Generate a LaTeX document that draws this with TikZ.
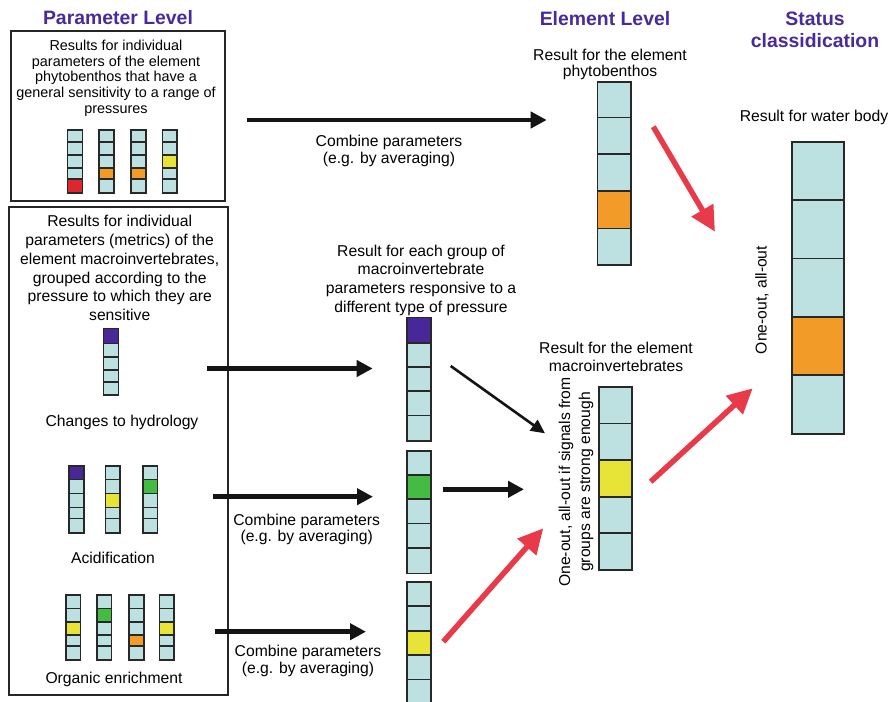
\documentclass[tikz,border=0pt]{standalone}
\usepackage{fontspec}
\setmainfont{Liberation Sans}
\usetikzlibrary{arrows.meta}
\definecolor{cellc}{RGB}{189,224,224}
\definecolor{hdc}{RGB}{72,42,155}
\definecolor{purp}{RGB}{72,40,152}
\definecolor{orng}{RGB}{242,155,40}
\definecolor{redc}{RGB}{222,38,46}
\definecolor{yelc}{RGB}{232,228,55}
\definecolor{grnc}{RGB}{68,188,67}
\definecolor{arrred}{RGB}{232,58,72}
\definecolor{edgec}{RGB}{40,40,40}
\tikzset{
  heading/.style={font=\fontsize{19.4}{22}\selectfont\bfseries, text=hdc, inner sep=0pt, align=center},
  txt/.style={font=\fontsize{15.7}{18.7}\selectfont, inner sep=0pt, align=center},
  txtsm/.style={font=\fontsize{14.4}{15.8}\selectfont, inner sep=0pt, align=center},
  txtarr/.style={font=\fontsize{15.7}{16.5}\selectfont, inner sep=0pt, align=center},
  framebox/.style={draw=black!85, line width=1.3pt},
  cellline/.style={draw=edgec, line width=1.6pt},
  blk/.style={draw=black!92, line width=4.5pt, -{Triangle[length=16pt,width=16pt]}},
  blkthin/.style={draw=black!92, line width=2.6pt, -{Triangle[length=14pt,width=13pt]}},
  redarr/.style={draw=arrred, line width=5.5pt, -{Triangle[length=25pt,width=24pt]}},
}
\newcommand\cbar[6]{%
  \fill[cellc] (#1,#3) rectangle (#2,#4);
  \foreach \ya/\yb/\cc in {#6}{\fill[\cc] (#1,\ya) rectangle (#2,\yb);}
  \foreach \yy in {#5}{\draw[cellline] (#1,\yy) -- (#2,\yy);}
  \draw[cellline] (#1,#3) rectangle (#2,#4);
}
\begin{document}
\begin{tikzpicture}[x=1pt,y=-1pt]
\path[use as bounding box] (0,0) rectangle (890,701);
\clip (0,0) rectangle (890,701);
\fill[white] (0,0) rectangle (890,701);

% headings
\node[heading] (hpar) at (118,18) {Parameter Level};
\node[heading] (hel) at (605,19) {Element Level};
\node[heading, anchor=north] (hstat) at (815,11.5) {Status\\classidication};

% frames
\draw[framebox] (11,31) rectangle (225,201);
\draw[framebox] (9,207) rectangle (228,695);

% top box text
\node[txtsm, anchor=north] (tbt) at (116,39.6) {Results for individual\\parameters of the element\\phytobenthos that have a\\general sensitivity to a range of\\pressures};
\cbar{67.5}{82.5}{130}{193}{142,155,168,179}{179/193/redc}
\cbar{99}{114}{130}{193}{142,155,168,179}{168/179/orng}
\cbar{131}{146}{130}{193}{142,155,168,179}{168/179/orng}
\cbar{162.5}{177}{130}{193}{142,155,168,179}{155/168/yelc}

% bottom box text
\node[txt, anchor=north] (bbt) at (119.7,215.4) {Results for individual\\parameters (metrics) of the\\element macroinvertebrates,\\grouped according to the\\pressure to which they are\\sensitive};
\cbar{103.3}{118.3}{328.3}{395}{343.3,356.7,370,381.7}{328.3/343.3/purp}
\node[txt, anchor=base] (lhyd) at (122,426.7) {Changes to hydrology};

\cbar{69}{83.7}{466}{532.7}{479.3,493.3,507.3,518.3}{466/479.3/purp}
\cbar{105.3}{120}{466}{532.7}{479.3,493.3,507.3,518.3}{493.3/507.3/yelc}
\cbar{142.7}{157.3}{466}{532.7}{479.3,493.3,507.3,518.3}{479.3/493.3/grnc}
\node[txt, anchor=base] (lacid) at (113,563.3) {Acidification};

\cbar{65.7}{80.3}{595}{660}{608.3,621.7,635,645.7}{621.7/635/yelc}
\cbar{96.7}{111.3}{595}{660}{608.3,621.7,635,645.7}{608.3/621.7/grnc}
\cbar{129}{144}{595}{660}{608.3,621.7,635,645.7}{635/645.7/orng}
\cbar{159.3}{174}{595}{660}{608.3,621.7,635,645.7}{621.7/635/yelc}
\node[txt, anchor=base] (lorg) at (114,683.3) {Organic enrichment};

% middle group bars
\node[txt, anchor=north] (tgrp) at (421,244.7) {Result for each group of\\macroinvertebrate\\parameters responsive to a\\different type of pressure};
\cbar{406.7}{430.7}{317.3}{440.7}{342.7,366.7,391,415.3}{317.3/342.7/purp}
\cbar{406.7}{430.7}{451}{573.3}{475,499,523.3,547.7}{475/499/grnc}
\cbar{406.7}{430.7}{581.7}{704}{606,630.7,655,679.3}{630.7/655/yelc}

% element level
\node[txtarr, anchor=north] (tphy) at (610,48.7) {Result for the element\\phytobenthos};
\cbar{597.3}{630.7}{81.7}{265}{117.3,154,191,228.3}{191/228.3/orng}
\node[font=\fontsize{15.7}{18.4}\selectfont, inner sep=0pt, align=center, anchor=north] (tmac) at (616,342) {Result for the element\\macroinvertebrates};
\cbar{599}{631.7}{386.7}{570}{423.3,460,496.7,532.7}{460/496.7/yelc}
\node[font=\fontsize{15.7}{20}\selectfont, inner sep=0pt, align=center, rotate=90] (rmac) at (576,482) {One-out, all-out if signals from\\groups are strong enough};

% status
\node[txt, anchor=base] (twb) at (814,121) {Result for water body};
\cbar{791.7}{844}{141.7}{434}{200,258.3,316.7,375}{316.7/375/orng}
\node[txt, rotate=90] (rwb) at (762,300) {One-out, all-out};

% combine labels
\node[txtarr, anchor=north] (c1) at (389,135.4) {Combine parameters\\(e.g. by averaging)};
\node[txtarr, anchor=north] (c2) at (306.7,513.7) {Combine parameters\\(e.g. by averaging)};
\node[txtarr, anchor=north] (c3) at (308,645.4) {Combine parameters\\(e.g. by averaging)};

% arrow end coordinates
\coordinate (a1s) at (246.7,120);   \coordinate (a1e) at (546.7,120);
\coordinate (a2s) at (207,368.5);   \coordinate (a2e) at (372.7,368.5);
\coordinate (a3s) at (213,496.7);   \coordinate (a3e) at (373,496.7);
\coordinate (a4s) at (215,631.7);   \coordinate (a4e) at (366,631.7);
\coordinate (a5s) at (450.7,366);   \coordinate (a5e) at (545,433.3);
\coordinate (a6s) at (443.3,489.3); \coordinate (a6e) at (524,489.3);
\coordinate (a7s) at (443.3,641.7); \coordinate (a7e) at (543.3,528.3);
\coordinate (a8s) at (653.3,126.7); \coordinate (a8e) at (715,231.7);
\coordinate (a9s) at (650.7,481.7); \coordinate (a9e) at (752.7,388.3);

\draw[blk] (a1s) -- (a1e);
\draw[blk] (a2s) -- (a2e);
\draw[blk] (a3s) -- (a3e);
\draw[blk] (a4s) -- (a4e);
\draw[blkthin] (a5s) -- (a5e);
\draw[blk] (a6s) -- (a6e);
\draw[redarr] (a7s) -- (a7e);
\draw[redarr] (a8s) -- (a8e);
\draw[redarr] (a9s) -- (a9e);
\end{tikzpicture}
\end{document}
